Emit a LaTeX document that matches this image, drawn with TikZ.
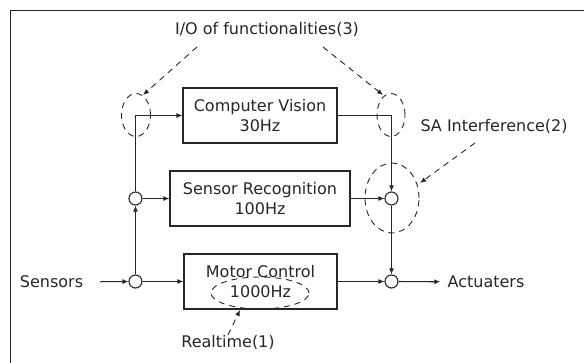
\documentclass[tikz,border=0pt]{standalone}
\usepackage{fontspec}
\setmainfont{DejaVu Sans}
\usetikzlibrary{arrows.meta,shapes.geometric}
\definecolor{ink}{HTML}{262626}
\tikzset{
  x=1pt, y=-1pt,
  every node/.style={font=\fontsize{16}{20}\selectfont, text=ink},
  block/.style={draw=ink, line width=1.1pt, rectangle, align=center, inner sep=0pt, minimum height=55pt},
  junction/.style={draw=ink, line width=1.1pt, circle, minimum size=13pt, inner sep=0pt, fill=white},
  flow/.style={draw=ink, line width=1.1pt, -{Latex[length=6pt,width=5pt]}},
  wire/.style={draw=ink, line width=1.1pt},
  ring/.style={draw=ink, line width=0.9pt, dash pattern=on 6pt off 5pt},
  hint/.style={draw=ink, line width=0.9pt, dash pattern=on 6pt off 5pt, -{Latex[length=6pt,width=5pt]}},
}
\begin{document}
\begin{tikzpicture}
\useasboundingbox (0,0) rectangle (584,363);
\clip (0,0) rectangle (584,363);
% outer frame
\draw[draw=ink, line width=1pt] (10,11) rectangle (620,400);

% function blocks
\node[block, minimum width=154pt] (cv) at (260,115.5) {Computer Vision\\30Hz};
\node[block, minimum width=180pt] (sr) at (260,198.5) {Sensor Recognition\\100Hz};
\node[block, minimum width=153pt] (mc) at (260.5,281.5) {Motor Control\\1000Hz};

% junctions
\node[junction] (j1) at (135.5,198.5) {};
\node[junction] (j2) at (135.5,281.5) {};
\node[junction] (j3) at (391.5,198.5) {};
\node[junction] (j4) at (391.5,281.5) {};
\coordinate (lc) at (135.5,115.5);
\coordinate (rc) at (391.5,115.5);

% terminals
\node[outer xsep=14pt] (sens) at (51.5,282) {Sensors};
\node[outer xsep=4pt] (act) at (486,282) {Actuaters};

% signal flow
\draw[flow] (sens) -- (j2);
\draw[flow] (j2) -- (mc);
\draw[flow] (j2) -- (j1);
\draw[flow] (j1) -- (sr);
\draw[wire] (j1) -- (lc);
\draw[flow] (lc) -- (cv.west |- lc);
\draw[wire] (cv.east |- rc) -- (rc);
\draw[flow] (rc) -- (j3);
\draw[flow] (sr) -- (j3);
\draw[flow] (j3) -- (j4);
\draw[flow] (mc.east |- j4) -- (j4);
\draw[flow] (j4) -- (act);

% highlighted regions
\node[ring, ellipse, minimum width=29pt, minimum height=43pt, inner sep=0pt] (e1) at (136,115) {};
\node[ring, ellipse, minimum width=28pt, minimum height=43pt, inner sep=0pt] (e2) at (391,115) {};
\node[ring, ellipse, minimum width=54pt, minimum height=70pt, inner sep=0pt] (e3) at (392,198) {};
\node[ring, ellipse, minimum width=98pt, minimum height=32pt, inner sep=0pt] (e4) at (260,293) {};

% annotations
\node (io) at (267,29) {I/O of functionalities(3)};
\node[anchor=west] (sa) at (417,126) {SA Interference(2)};
\node (rt) at (228,342) {Realtime(1)};
\coordinate (io1) at (197,47);
\coordinate (io2) at (323,47);
\coordinate (sa1) at (475,143);
\coordinate (rt1) at (228,335);
\draw[hint] (io1) -- (143,95);
\draw[hint] (io2) -- (383,95);
\draw[hint] (sa1) -- (420,183);
\draw[hint] (rt1) -- (240,310);
\end{tikzpicture}
\end{document}
